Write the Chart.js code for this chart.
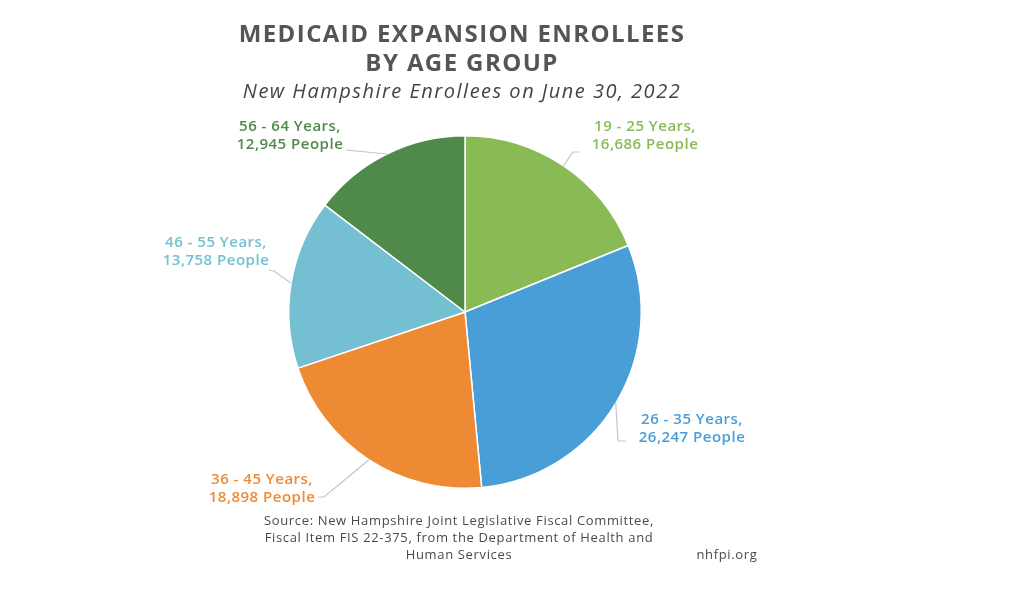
<!DOCTYPE html>
<html>
<head>
<meta charset="utf-8">
<script src="https://cdn.jsdelivr.net/npm/chart.js@4.4.1/dist/chart.umd.min.js"></script>
<style>
  html, body { margin: 0; padding: 0; background: #fff; }
  #wrap { width: 1024px; height: 611px; }
</style>
</head>
<body>
<div id="wrap"><canvas id="chart" width="1024" height="611"></canvas></div>
<script>
// data
const ageGroups = ["19 - 25 Years", "26 - 35 Years", "36 - 45 Years", "46 - 55 Years", "56 - 64 Years"];
const enrollees = [16686, 26247, 18898, 13758, 12945];
const sliceColors = ["#89BA55", "#4A9ED8", "#EF8A34", "#74C0D2", "#4F8A4A"];

const titleLines = ["MEDICAID EXPANSION ENROLLEES", "BY AGE GROUP"];
const subtitle = "New Hampshire Enrollees on June 30, 2022";
const sourceLines = [
  "Source: New Hampshire Joint Legislative Fiscal Committee,",
  "Fiscal Item FIS 22-375, from the Department of Health and",
  "Human Services"
];
const siteText = "nhfpi.org";

// where each callout sits (text centre, first line y, leader elbow/end)
const calloutPos = [
  { x: 645, y: 127, elbow: [573, 152], end: [579, 152] },
  { x: 692, y: 420, elbow: [618, 441], end: [626, 441] },
  { x: 262, y: 480, elbow: [324, 497], end: [318, 497] },
  { x: 216, y: 243, elbow: [274, 271], end: [269, 270] },
  { x: 290, y: 127, elbow: [346, 150], end: [346, 150] }
];

/* titles, callouts and source */
const textPlugin = {
  id: "texts",
  afterDraw(c) {
    const ctx = c.ctx;
    ctx.save();
    ctx.textAlign = "center";
    ctx.textBaseline = "middle";

    ctx.fillStyle = "#555555";
    ctx.font = "bold 24px 'Open Sans'";
    ctx.letterSpacing = "1.4px";
    ctx.fillText(titleLines[0], 462, 35);
    ctx.fillText(titleLines[1], 462, 64);

    ctx.fillStyle = "#444444";
    ctx.font = "italic 20px 'Open Sans'";
    ctx.letterSpacing = "1.5px";
    ctx.fillText(subtitle, 462, 92);

    // callouts
    const meta = c.getDatasetMeta(0);
    meta.data.forEach((arc, i) => {
      const p = arc.getProps(["x", "y", "startAngle", "endAngle", "outerRadius"]);
      const mid = (p.startAngle + p.endAngle) / 2;
      const sx = p.x + Math.cos(mid) * p.outerRadius;
      const sy = p.y + Math.sin(mid) * p.outerRadius;
      const pos = calloutPos[i];

      ctx.strokeStyle = "#c4c4c4";
      ctx.lineWidth = 1.2;
      ctx.beginPath();
      ctx.moveTo(sx, sy);
      ctx.lineTo(pos.elbow[0], pos.elbow[1]);
      ctx.lineTo(pos.end[0], pos.end[1]);
      ctx.stroke();

      ctx.fillStyle = sliceColors[i];
      ctx.font = "600 15px 'Open Sans'";
      ctx.letterSpacing = "0.5px";
      ctx.fillText(ageGroups[i] + ",", pos.x, pos.y);
      ctx.fillText(enrollees[i].toLocaleString("en-US") + " People", pos.x, pos.y + 18);
    });

    // source
    ctx.fillStyle = "#4a4a4a";
    ctx.font = "13px 'Open Sans'";
    ctx.letterSpacing = "0.65px";
    sourceLines.forEach((t, i) => ctx.fillText(t, 459, 521 + i * 17));
    ctx.fillText(siteText, 727, 555);
    ctx.restore();
  }
};

const ctx = document.getElementById("chart").getContext("2d");
const chart = new Chart(ctx, {
  type: "pie",
  data: {
    labels: ageGroups,
    datasets: [{
      data: enrollees,
      backgroundColor: sliceColors,
      borderColor: "#ffffff",
      borderWidth: 1.5
    }]
  },
  options: {
    responsive: false,
    animation: false,
    layout: { padding: { top: 135, bottom: 122, left: 288, right: 382 } },
    plugins: {
      legend: { display: false },
      tooltip: { enabled: false }
    }
  },
  plugins: [textPlugin]
});
</script>
</body>
</html>
